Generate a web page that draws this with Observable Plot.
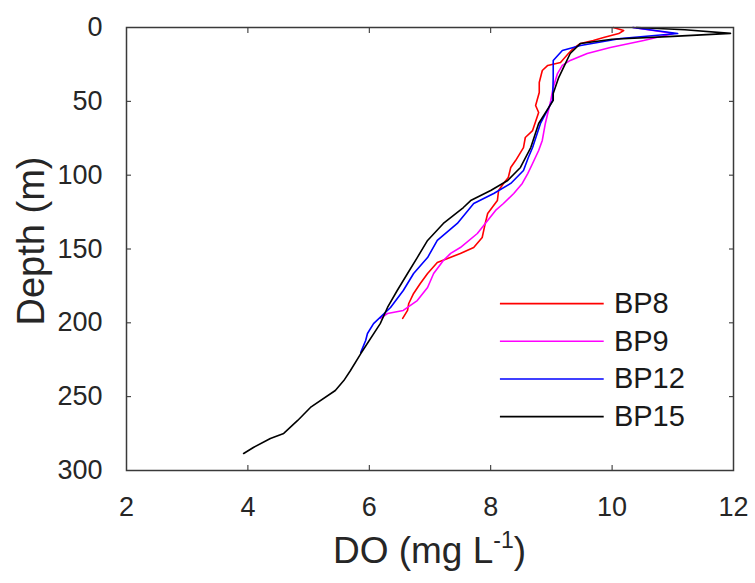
<!DOCTYPE html>
<html>
<head>
<meta charset="utf-8">
<script src="https://cdn.jsdelivr.net/npm/d3@7"></script>
<script src="https://cdn.jsdelivr.net/npm/@observablehq/plot@0.6"></script>
<style>
  html, body { margin: 0; padding: 0; background: #fff; }
  #chart { width: 755px; height: 583px; }
</style>
</head>
<body>
<div id="chart"></div>
<script>
// ---- data (DO in mg/L, depth in m) ----
const seriesNames = ["BP8", "BP9", "BP12", "BP15"];
const seriesColors = ["#ff0000", "#ff00ff", "#0000ff", "#000000"];

const bp8Depth = [0, 2, 4.1, 6.8, 8.8, 10.8, 14.2, 17.6, 23.7, 25.7, 29.1, 37.2, 44, 52.8, 57.6, 69.8, 74.5, 81.3, 90.1, 94.8, 101.6, 105.6, 110.4, 117.2, 126, 132.7, 142.2, 149, 153, 156.4, 159.1, 166.6, 173.4, 180.1, 186.9, 191.6, 197];
const bp8DO    = [10.02, 10.19, 10.11, 9.86, 9.69, 9.48, 9.36, 9.28, 9.15, 8.94, 8.85, 8.80, 8.80, 8.74, 8.79, 8.69, 8.57, 8.54, 8.41, 8.33, 8.29, 8.21, 8.13, 8.11, 7.95, 7.91, 7.86, 7.72, 7.50, 7.29, 7.12, 6.96, 6.84, 6.73, 6.65, 6.63, 6.55];

const bp9Depth = [0, 4.1, 8.8, 13.5, 17.6, 22.3, 25.7, 31.2, 40.6, 49.4, 65, 76.5, 83.3, 92.1, 98.9, 105.6, 112.4, 119.2, 123.9, 139.5, 149, 153, 157.8, 166.6, 176.1, 184.9, 191.6, 193.7, 197];
const bp9DO    = [10.35, 11.01, 10.52, 9.97, 9.59, 9.31, 9.18, 9.10, 9.03, 8.99, 8.90, 8.85, 8.79, 8.69, 8.61, 8.52, 8.38, 8.21, 8.08, 7.78, 7.50, 7.34, 7.22, 7.06, 6.96, 6.79, 6.56, 6.30, 6.18];

const bp12Depth = [0, 4.1, 7.4, 12.2, 15.6, 22.3, 33.9, 49.4, 65, 81.3, 88, 96.8, 105.6, 112.4, 119.2, 132.7, 144.2, 155.8, 166.6, 178.1, 189.6, 200.5, 207.2, 212, 220];
const bp12DO    = [10.34, 11.08, 10.14, 9.48, 9.18, 9.03, 9.03, 9.02, 8.82, 8.69, 8.62, 8.54, 8.33, 8.05, 7.72, 7.45, 7.12, 6.96, 6.73, 6.56, 6.35, 6.07, 5.97, 5.94, 5.86];

const bp15Depth = [0, 1.5, 4, 6, 8, 10.8, 17.6, 24.4, 33.9, 44.7, 49.4, 65, 81.3, 94.8, 103.6, 110.4, 117.2, 121.9, 132.7, 144.2, 155.8, 166.6, 178.1, 189.6, 200.5, 220.8, 232.3, 239.1, 245.8, 257.3, 266.1, 274.9, 278.3, 284.4, 288.5];
const bp15DO    = [10.4, 11.2, 11.95, 11.0, 10.0, 9.48, 9.31, 9.23, 9.12, 9.03, 9.03, 8.79, 8.66, 8.49, 8.28, 8.0, 7.67, 7.55, 7.22, 6.96, 6.79, 6.63, 6.46, 6.30, 6.18, 5.86, 5.69, 5.58, 5.44, 5.03, 4.82, 4.59, 4.37, 4.09, 3.93];

const xTicks = [2, 4, 6, 8, 10, 12];
const yTicks = [0, 50, 100, 150, 200, 250, 300];

// ---- build long table ----
const depthArrays = [bp8Depth, bp9Depth, bp12Depth, bp15Depth];
const doArrays = [bp8DO, bp9DO, bp12DO, bp15DO];
const rows = [];
seriesNames.forEach((name, s) => {
  depthArrays[s].forEach((d, i) => rows.push({series: name, depth: d, DO: doArrays[s][i]}));
});

// legend rows (placed in data space inside the frame)
const legendRows = seriesNames.map((name, i) => ({name, color: seriesColors[i], depth: 187 + i * 25.5}));

const axisColor = "#262626";
const font = "'Liberation Sans', Arial, Helvetica, sans-serif";

const plot = Plot.plot({
  width: 755,
  height: 583,
  marginLeft: 126,
  marginRight: 22,
  marginTop: 27,
  marginBottom: 113,
  style: {fontFamily: font, fontSize: "27px", color: axisColor, background: "#fff"},
  x: {domain: [2, 12], ticks: xTicks},
  y: {domain: [0, 300], reverse: true, ticks: yTicks},
  color: {domain: seriesNames, range: seriesColors},
  marks: [
    Plot.axisX({ticks: xTicks, tickSize: -5, tickPadding: 31, label: null, stroke: axisColor, fontSize: 27}),
    Plot.axisX({ticks: xTicks, anchor: "top", tickSize: -5, tickFormat: () => "", label: null, stroke: axisColor}),
    Plot.axisY({ticks: yTicks, tickSize: -5, tickPadding: 29, label: null, stroke: axisColor, fontSize: 27}),
    Plot.axisY({ticks: yTicks, anchor: "right", tickSize: -5, tickFormat: () => "", label: null, stroke: axisColor}),
    Plot.line(rows, {x: "DO", y: "depth", z: "series", stroke: "series", strokeWidth: 1.6, curve: "linear"}),
    Plot.frame({stroke: "#3a3a3a", strokeWidth: 1.5}),
    Plot.ruleY(legendRows, {y: "depth", x1: 8.16, x2: 9.87, stroke: "color", strokeWidth: 1.6}),
    Plot.text(legendRows, {y: "depth", x: 10.03, text: "name", textAnchor: "start", fill: "#1a1a1a", fontSize: 29}),
    Plot.text(["Depth (m)"], {frameAnchor: "left", textAnchor: "middle", rotate: -90, dx: -95, dy: -8, fill: axisColor, fontSize: 38})
  ]
});

document.getElementById("chart").appendChild(plot);

// x-axis title with superscript
const svg = d3.select(plot);
const xs = plot.scale("x");
const cx = (xs.apply(2) + xs.apply(12)) / 2;
const t = svg.append("text")
  .attr("x", cx)
  .attr("y", 563)
  .attr("text-anchor", "middle")
  .attr("fill", axisColor)
  .attr("font-size", 37)
  .attr("font-family", font);
t.append("tspan").text("DO (mg L");
t.append("tspan").attr("dy", -15).attr("font-size", 23).text("-1");
t.append("tspan").attr("dy", 15).text(")");
</script>
</body>
</html>
